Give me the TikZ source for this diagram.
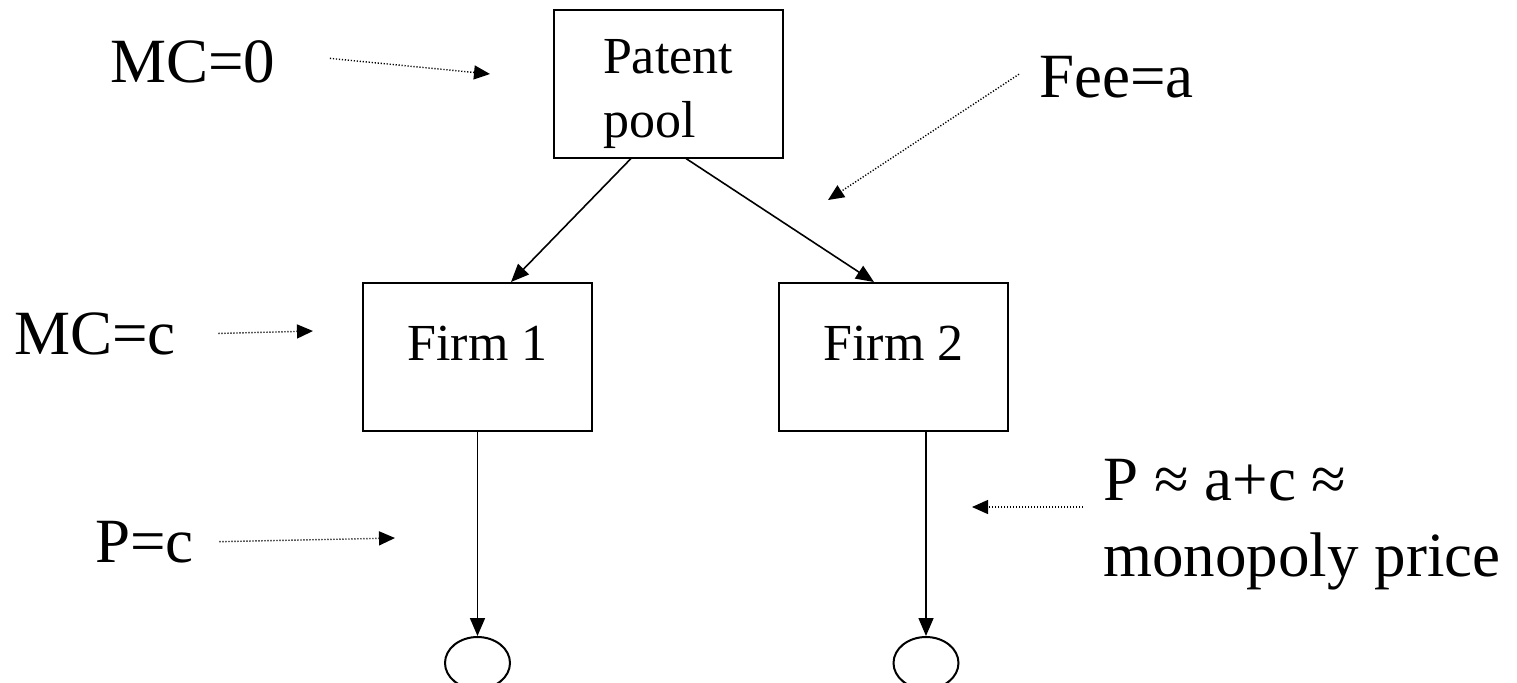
\documentclass[tikz,border=0pt]{standalone}
\usepackage{fontspec}
\setmainfont{Liberation Serif}
\usetikzlibrary{arrows.meta,shapes.geometric}

\begin{document}
\begin{tikzpicture}[x=0.5pt, y=-0.5pt,
	box/.style={draw, line width=1pt, minimum width=114.5pt, minimum height=74pt,
		font=\fontsize{26}{32}\selectfont},
	leaf/.style={draw, ellipse, line width=1pt, minimum width=32.5pt,
		minimum height=26pt, inner sep=0pt},
	tag/.style={inner sep=0pt, anchor=base west, font=\fontsize{31.5}{38}\selectfont},
	link/.style={line width=0.8pt, -{Triangle[length=9pt, width=7.5pt]}},
	hint/.style={line width=0.7pt, dash pattern=on 0.6pt off 0.9pt,
		-{Triangle[length=8pt, width=7pt]}}]
	\useasboundingbox (0,0) rectangle (1517,682);

	% pool, the two firms and their markets
	\node [box, align=left] (pool) at (668,83.5) {\rule{0pt}{28pt}Patent\\pool};
	\node [box, text depth=13.5pt] (firm1) at (477.5,357) {Firm 1\hspace{7pt}};
	\node [box, text depth=13.5pt] (firm2) at (893.5,357) {Firm 2\hspace{6pt}};
	\node [leaf] (out1) at (477.5,663) {};
	\node [leaf] (out2) at (926,663) {};

	\draw [link] ([xshift=-18.5pt]pool.south) -- ([xshift=16.75pt]firm1.north);
	\draw [link] ([xshift=9pt]pool.south) -- ([xshift=-9.75pt]firm2.north);
	\draw [link] (firm1.south) -- (out1.north);
	\draw [link] ([xshift=16.25pt]firm2.south) -- (out2.north);

	% side notes
	\node [tag] (mc0) at (110,82) {MC=0};
	\node [tag] (fee) at (1039,97) {Fee=a};
	\node [tag] (mcc) at (14,354) {MC=c};
	\node [tag] (pc) at (95,562) {P=c};
	\node [tag, align=left] (pmono) at (1103,576) {P ≈ a+c ≈\\monopoly price};

	\coordinate (mc0tip) at (490,74);
	\coordinate (feetip) at (828,200);
	\coordinate (mcctip) at (313,331);
	\coordinate (pctip) at (395,538);
	\coordinate (pmtip) at (972,507);

	\draw [hint] ([xshift=27pt, yshift=1.5pt]mc0.east) -- (mc0tip);
	\draw [hint] ([xshift=-10pt, yshift=1.25pt]fee.west) -- (feetip);
	\draw [hint] ([xshift=21pt]mcc.east) -- (mcctip);
	\draw [hint] ([xshift=12.5pt]pc.east) -- (pctip);
	\draw [hint] ([xshift=-10pt]pmono.west |- pmtip) -- (pmtip);
\end{tikzpicture}
\end{document}
